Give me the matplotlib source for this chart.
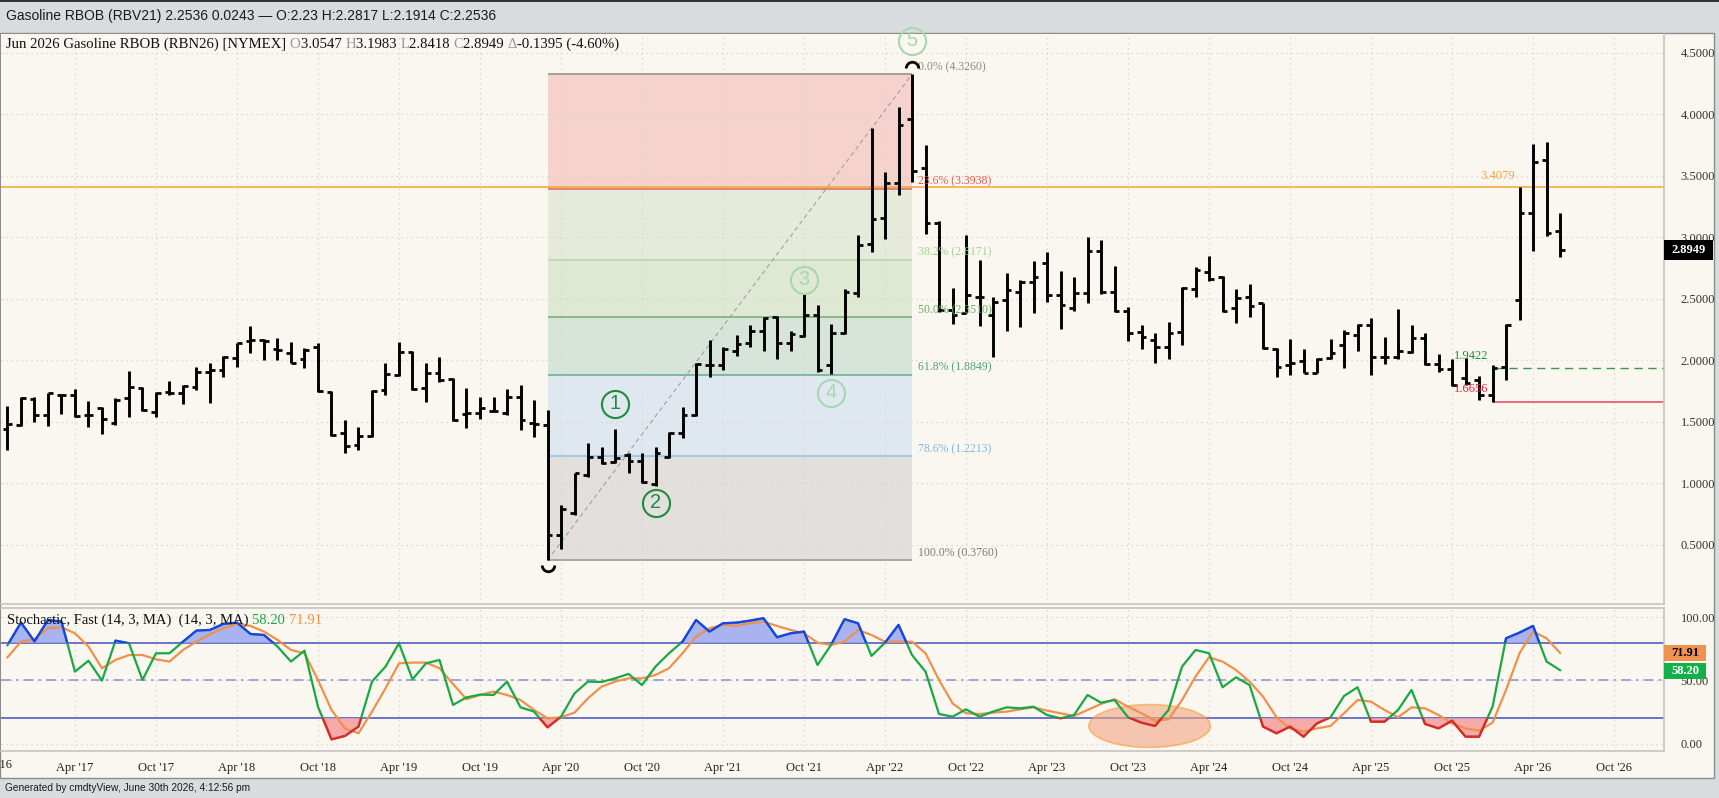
import numpy as np
import pandas as pd
import matplotlib
matplotlib.use("Agg")
import matplotlib.pyplot as plt
from matplotlib.patches import Rectangle, Ellipse
from matplotlib.path import Path
from matplotlib.transforms import blended_transform_factory

plt.rcParams['font.family'] = ['Liberation Serif', 'DejaVu Serif']

W, H = 1719, 798

# ---------------- data (monthly bars, Nov 2016 .. Jun 2026) ----------------
months = pd.period_range("2016-11", "2026-06", freq="M")

opens = [1.440, 1.472, 1.684, 1.556, 1.716, 1.719, 1.556, 1.611, 1.494, 1.692,
         1.773, 1.584, 1.746, 1.733, 1.787, 1.909, 1.922, 2.017, 2.161, 2.166,
         2.090, 2.063, 2.009, 2.112, 1.746, 1.407, 1.313, 1.386, 1.760, 1.882,
         2.071, 1.773, 1.901, 1.846, 1.565, 1.575, 1.592, 1.575, 1.701, 1.489,
         1.476, 0.580, 0.758, 1.069, 1.218, 1.178, 1.232, 1.186, 0.996, 1.218,
         1.408, 1.557, 1.964, 1.964, 2.080, 2.145, 2.243, 2.351, 2.140, 2.200,
         2.370, 1.964, 2.221, 2.546, 2.947, 3.156, 3.441, 3.961, 3.562, 3.121,
         2.411, 2.384, 2.519, 2.370, 2.492, 2.560, 2.640, 2.790, 2.533, 2.424,
         2.546, 2.893, 2.560, 2.405, 2.235, 2.170, 2.113, 2.234, 2.578, 2.722,
         2.681, 2.424, 2.519, 2.465, 2.091, 1.963, 1.998, 1.901, 2.017, 2.126,
         2.207, 2.289, 2.025, 2.025, 2.072, 2.180, 1.971, 1.928, 1.860, 1.840,
         1.720, 1.947, 2.490, 3.200, 3.630, 3.0547]
highs = [1.630, 1.700, 1.700, 1.738, 1.727, 1.765, 1.673, 1.619, 1.692, 1.917,
         1.781, 1.746, 1.836, 1.800, 1.944, 1.982, 2.036, 2.145, 2.280, 2.172,
         2.180, 2.153, 2.098, 2.145, 1.754, 1.516, 1.462, 1.760, 1.977, 2.153,
         2.079, 1.977, 2.031, 1.855, 1.773, 1.705, 1.705, 1.766, 1.801, 1.679,
         1.598, 0.825, 1.088, 1.327, 1.294, 1.441, 1.246, 1.246, 1.294, 1.422,
         1.625, 1.983, 2.167, 2.113, 2.208, 2.289, 2.351, 2.362, 2.243, 2.541,
         2.452, 2.297, 2.579, 3.021, 3.888, 3.536, 4.064, 4.326, 3.752, 3.137,
         2.587, 3.020, 2.817, 2.519, 2.709, 2.655, 2.809, 2.885, 2.730, 2.682,
         3.001, 2.980, 2.768, 2.438, 2.289, 2.220, 2.316, 2.595, 2.763, 2.849,
         2.687, 2.578, 2.619, 2.470, 2.099, 2.172, 2.091, 2.017, 2.172, 2.248,
         2.297, 2.343, 2.194, 2.416, 2.289, 2.226, 2.053, 2.010, 2.020, 1.876,
         1.960, 2.299, 3.4079, 3.762, 3.774, 3.1983]
lows = [1.272, 1.467, 1.502, 1.467, 1.565, 1.543, 1.456, 1.402, 1.475, 1.543,
        1.592, 1.543, 1.719, 1.646, 1.760, 1.657, 1.863, 1.944, 2.058, 2.004,
        2.004, 1.977, 1.936, 1.746, 1.386, 1.250, 1.272, 1.380, 1.719, 1.874,
        1.760, 1.665, 1.827, 1.510, 1.448, 1.521, 1.584, 1.556, 1.435, 1.381,
        0.376, 0.470, 0.744, 1.056, 1.159, 1.164, 1.083, 1.007, 0.980, 1.205,
        1.368, 1.549, 1.869, 1.923, 2.037, 2.107, 2.080, 2.010, 2.080, 2.194,
        1.910, 1.891, 2.216, 2.514, 2.885, 2.985, 3.346, 3.454, 3.029, 2.397,
        2.297, 2.384, 2.281, 2.030, 2.243, 2.275, 2.384, 2.478, 2.254, 2.405,
        2.465, 2.541, 2.397, 2.161, 2.090, 1.977, 2.010, 2.126, 2.519, 2.649,
        2.397, 2.302, 2.356, 2.091, 1.863, 1.882, 1.896, 1.896, 2.009, 1.936,
        2.080, 1.882, 1.971, 2.009, 2.058, 1.963, 1.909, 1.791, 1.800, 1.682,
        1.6656, 1.838, 2.328, 2.890, 3.013, 2.8418]
closes = [1.483, 1.692, 1.556, 1.733, 1.716, 1.548, 1.556, 1.521, 1.678, 1.787,
          1.597, 1.733, 1.733, 1.792, 1.909, 1.922, 2.025, 2.139, 2.166, 2.161,
          2.085, 1.982, 2.085, 1.752, 1.394, 1.307, 1.386, 1.754, 1.890, 2.071,
          1.765, 1.901, 1.841, 1.516, 1.570, 1.611, 1.592, 1.705, 1.517, 1.484,
          0.580, 0.790, 1.083, 1.218, 1.170, 1.205, 1.186, 1.015, 1.246, 1.414,
          1.557, 1.972, 1.964, 2.091, 2.134, 2.243, 2.343, 2.140, 2.216, 2.370,
          1.923, 2.221, 2.560, 2.939, 3.148, 3.441, 3.915, 3.543, 3.115, 2.411,
          2.370, 2.533, 2.519, 2.478, 2.573, 2.641, 2.682, 2.533, 2.451, 2.552,
          2.893, 2.560, 2.405, 2.220, 2.190, 2.113, 2.227, 2.587, 2.736, 2.660,
          2.405, 2.505, 2.443, 2.099, 1.944, 1.977, 1.901, 2.009, 2.058, 2.226,
          2.289, 2.031, 2.025, 2.080, 2.180, 1.971, 1.928, 1.800, 1.820, 1.720,
          1.9422, 2.290, 3.200, 3.616, 3.033, 2.8949]

# Stochastic fast (14, 3): %K and %D
stoch_k = [78, 96, 81, 98, 96.7, 57, 65.7, 49.9, 81.6, 79.5,
           50.4, 71.6, 71.6, 80.8, 89.6, 90.1, 94.9, 95.9, 86.9, 86.1,
           76.9, 65, 73.7, 29.2, 3.3, 6, 13.4, 49.1, 61, 79.5,
           50.9, 63.6, 66.3, 30.6, 36.6, 38.8, 38.5, 49.1, 28.7, 25.3,
           12.8, 21.3, 39.8, 49.1, 48.8, 51.7, 55.2, 46.4, 61, 71.6,
           80.8, 98, 88.8, 95.4, 95.9, 97.5, 99.4, 84.3, 87.4, 88.8,
           62.3, 78.2, 98.6, 95.4, 69.5, 80, 94.1, 70.2, 57, 23.4,
           21.3, 27.1, 21.3, 25.3, 28.7, 27.9, 29.2, 22.6, 20, 22.6,
           38.5, 32.4, 34.5, 20.8, 16.5, 13.9, 26.6, 61, 74.2, 71.6,
           44.6, 52.5, 46.4, 13.4, 8.1, 13.4, 5.4, 16, 20.8, 37.7,
           44.6, 17.3, 17.3, 26.6, 42.5, 15.5, 12, 18.1, 5.4, 5.4,
           29.2, 83.5, 88, 93.3, 65, 58.20]
stoch_d = [68.4, 80.8, 82.7, 91.4, 92.2, 87.4, 76.9, 59.7, 66.3, 70.2,
           70.2, 66.8, 65, 74.2, 80.8, 86.7, 91.4, 94.9, 93.3, 88.8,
           82.2, 74.2, 71.6, 50.4, 26.6, 12, 8.1, 25.3, 43.8, 63.6,
           64.2, 64.2, 59.7, 47.2, 35.1, 38.5, 41.2, 38.5, 34.5, 26.6,
           20, 20.8, 24.5, 35.9, 45.1, 49.1, 51.7, 51.7, 54.4, 59.7,
           71.6, 84.8, 91.4, 94.1, 93.3, 95.4, 96.7, 93.3, 90.1, 87.4,
           80, 78.2, 80.8, 90, 86.1, 80.8, 80.8, 80.8, 71.6, 50.4,
           31.9, 24, 23.4, 24.5, 25.3, 27.1, 28.7, 26.1, 24, 21.8,
           26.6, 31.4, 35.1, 29.2, 24, 18.1, 19.2, 34.5, 53.1, 68.4,
           65, 58.3, 49.1, 37.2, 20.8, 12, 9.4, 12, 13.9, 24,
           34.5, 33.2, 26.6, 20.8, 28.7, 27.9, 22.6, 16, 12, 10.2,
           16.5, 42.5, 71.6, 88.8, 83.5, 71.91]

# Fibonacci retracement (low -> high)
fib_start, fib_end = "2020-03", "2022-06"
fib_low, fib_high = 0.3760, 4.3260
fib_ratios = [0.0, 0.236, 0.382, 0.5, 0.618, 0.786, 1.0]
fib_line_colors = ["#a39d9d", "#dc6a5c", "#b2d9a4", "#73ad6b", "#63ad92", "#93c0ea", "#a8a5a5"]
fib_text_colors = ["#8f8a8a", "#e05a50", "#a3d293", "#6bb064", "#4f9f80", "#80b4ea", "#7d7a7a"]
fib_zone_colors = ["#f5d3cc", "#e6ebd9", "#dfe8d3", "#d7e4da", "#e0e8ef", "#e3dfdc"]

# Elliott wave counts
wave_labels = ["1", "2", "3", "4", "5"]
wave_months = ["2020-08", "2020-11", "2021-10", "2021-12", "2022-06"]
wave_prices = [1.646, 0.842, 2.655, 1.736, 4.60]
wave_colors = ["#1f8b3b", "#1f8b3b", "#a6d7b0", "#a6d7b0", "#a6d7b0"]

# horizontal marker lines
resist_level = 3.4079
support_level = 1.9422
low_level = 1.6656
marker_start = "2026-01"

CREAM = "#faf7f0"
GREEN = "#1aa844"
ORANGE = "#f0914a"
BLUE = "#1c3ff0"
RED = "#f0202a"


def mpos(p):
    p = pd.Period(p, freq="M")
    return (p.year - 2016) * 12 + p.month - 1


def rect(x0, y0, x1, y1):
    return [x0 / W, 1 - y1 / H, (x1 - x0) / W, (y1 - y0) / H]


x = np.array([mpos(p) for p in months])
o, h, l, c = map(np.array, (opens, highs, lows, closes))
k = np.array(stoch_k)
d = np.array(stoch_d)

fig = plt.figure(figsize=(W / 100, H / 100), dpi=100, facecolor="#d8dcdf")
fig.add_artist(Rectangle((0, 1 - 778 / H), 1714 / W, (778 - 33) / H,
                         transform=fig.transFigure, fc=CREAM, ec="#8c8c8c", lw=1, zorder=-5))
fig.add_artist(Rectangle((0, 1 - 2 / H), 1, 2 / H, transform=fig.transFigure,
                         fc="#30353a", ec="none", zorder=-4))

ax = fig.add_axes(rect(1, 34, 1664, 604))
ax_st = fig.add_axes(rect(1, 608, 1664, 751), sharex=ax)
for a in (ax, ax_st):
    a.set_facecolor(CREAM)
    for s in a.spines.values():
        s.set_color("#c4c4c4")
        s.set_linewidth(1.2)
ax.spines["top"].set_visible(False)
ax.spines["left"].set_visible(False)
ax_st.spines["left"].set_visible(False)

ax.set_xlim(9.52, 132.7)
ax.set_ylim(0.02, 4.654)
ax_st.set_ylim(-5.95, 107.5)

# ---------------- grid / ticks ----------------
tick_periods = [p for p in pd.period_range("2016-10", "2026-10", freq="M") if p.month in (4, 10)]
tick_pos = [mpos(p) for p in tick_periods]
tick_lab = [p.strftime("%b '%y") for p in tick_periods]
grid_kw = dict(color="#d6d3cc", linestyle=(0, (1, 3)), lw=0.9)

ax.yaxis.tick_right()
ax.set_yticks(np.arange(0.5, 4.51, 0.5))
ax.set_yticklabels([f"{v:.4f}" for v in np.arange(0.5, 4.51, 0.5)])
ax.tick_params(axis="y", length=0, pad=12, labelsize=9, labelcolor="#333333")
ax.tick_params(axis="x", length=0, labelbottom=False)
ax.grid(True, **grid_kw)
ax.set_axisbelow(True)

ax_st.yaxis.tick_right()
ax_st.set_yticks([0, 50, 100])
ax_st.set_yticklabels(["0.00", "50.00", "100.00"])
ax_st.tick_params(axis="y", length=0, pad=12, labelsize=9, labelcolor="#333333")
ax_st.set_xticks(tick_pos[1:], tick_lab[1:])
ax_st.tick_params(axis="x", length=0, pad=8, labelsize=9, labelcolor="#222222")
ax_st.grid(True, **grid_kw)
ax_st.set_axisbelow(True)
ax_st.text(tick_pos[0], -0.098, tick_lab[0], transform=blended_transform_factory(ax_st.transData, ax_st.transAxes),
           ha="center", va="center", fontsize=9, color="#222222", clip_on=False)

# ---------------- Fibonacci retracement ----------------
fx0, fx1 = mpos(fib_start), mpos(fib_end)
rng = fib_high - fib_low
fib_levels = [fib_high - r * rng for r in fib_ratios]
for i, col in enumerate(fib_zone_colors):
    ax.fill_between([fx0, fx1], fib_levels[i + 1], fib_levels[i], color=col, lw=0, zorder=0.5)
for r, lv, lc, tc in zip(fib_ratios, fib_levels, fib_line_colors, fib_text_colors):
    ax.hlines(lv, fx0, fx1, color=lc, lw=1.4 if r in (0.0, 1.0) else 1.1, zorder=1)
    ax.annotate(f"{r * 100:.1f}% ({lv:.4f})", (fx1, lv), xytext=(4, 1), textcoords="offset points",
                ha="left", va="bottom", fontsize=8.5, color=tc, zorder=6)
ax.plot([fx0, fx1], [fib_low, fib_high], color="#a0a0a0", lw=0.8, ls=(0, (4, 3)), zorder=1.2)

# swing markers (half circles)
arc_up = Path.arc(0, 180)
arc_dn = Path.arc(180, 360)
ax.plot(fx1, fib_high + 0.05, marker=arc_up, ms=9, mfc="none", mec="black", mew=2, zorder=7, clip_on=False)
ax.plot(fx0, fib_low - 0.04, marker=arc_dn, ms=9, mfc="none", mec="black", mew=2, zorder=7, clip_on=False)

# ---------------- horizontal levels ----------------
ms0 = mpos(marker_start)
ax.axhline(resist_level, color="#f5a631", lw=1.1, zorder=1.5)
ax.hlines(support_level, ms0 + 0.2, 132.7, color="#3a9a4a", lw=1.0, ls=(0, (6, 4)), zorder=1.5)
ax.hlines(low_level, ms0, 132.7, color="#e8455a", lw=1.1, zorder=1.5)
ax.annotate(f"{resist_level:.4f}", (mpos("2026-02") + 0.7, resist_level), xytext=(0, 4),
            textcoords="offset points", ha="right", va="bottom", fontsize=9, color="#f5a631")
ax.annotate(f"{support_level:.4f}", (ms0 - 0.3, support_level), xytext=(0, 4),
            textcoords="offset points", ha="right", va="bottom", fontsize=9, color="#1f8b3b", zorder=8)
ax.annotate(f"{low_level:.4f}", (ms0 - 0.3, low_level), xytext=(0, 5),
            textcoords="offset points", ha="right", va="bottom", fontsize=9, color="#e8203a", zorder=8)

# ---------------- OHLC bars ----------------
tw = 0.34
ax.vlines(x, l, h, color="black", lw=2.1, zorder=4)
ax.hlines(o, x - tw, x, color="black", lw=2.0, zorder=4)
ax.hlines(c, x, x + tw, color="black", lw=2.0, zorder=4)

# wave counts
for lab, wm, wp, wc in zip(wave_labels, wave_months, wave_prices, wave_colors):
    wx = mpos(wm)
    ax.plot(wx, wp, marker="o", ms=19.5, mfc="none", mec=wc, mew=1.5, zorder=7, clip_on=False)
    ax.text(wx, wp, lab, ha="center", va="center", fontsize=14.5, color=wc,
            family="Liberation Sans", zorder=7, clip_on=False)


# value boxes on the right axis
def value_box(axis, val, text, half_h, fc, tc, width_px):
    bt = blended_transform_factory(axis.transAxes, axis.transData)
    wa = width_px / (1663)
    axis.add_patch(Rectangle((1.0, val - half_h), wa, 2 * half_h, transform=bt, fc=fc, ec="none",
                             clip_on=False, zorder=10))
    axis.text(1.0 + wa / 2, val, text, transform=bt, ha="center", va="center", fontsize=9,
              fontweight="bold", color=tc, clip_on=False, zorder=11)


value_box(ax, closes[-1], f"{closes[-1]:.4f}", 10 / 123, "black", "white", 49)

# ---------------- stochastic ----------------
ax_st.axhline(80, color="#6b73c9", lw=1.4, zorder=1)
ax_st.axhline(20, color="#6b73c9", lw=1.4, zorder=1)
ax_st.axhline(50, color="#9297d6", lw=1.2, ls=(0, (6, 3, 1.5, 3)), zorder=1)
ax_st.fill_between(x, k, 80, where=k >= 80, interpolate=True, color="#a9b3ef", lw=0, zorder=1.2)
ax_st.fill_between(x, k, 20, where=k <= 20, interpolate=True, color="#f6a9a9", lw=0, zorder=1.2)
ax_st.add_patch(Ellipse((mpos("2023-11") + 0.6, 13.9), 9.0, 34, fc="#f3a585", alpha=0.6,
                        ec="#f5a030", lw=1.2, zorder=1.4))
ax_st.plot(x, d, color=ORANGE, lw=1.6, zorder=3)
ax_st.plot(x, k, color=GREEN, lw=1.6, zorder=4)
hi_line, = ax_st.plot(x, k, color=BLUE, lw=1.6, zorder=5)
hi_line.set_clip_path(Rectangle((0, 80), 200, 100, transform=ax_st.transData))
lo_line, = ax_st.plot(x, k, color=RED, lw=1.6, zorder=5)
lo_line.set_clip_path(Rectangle((0, -50), 200, 70, transform=ax_st.transData))

value_box(ax_st, stoch_d[-1], f"{stoch_d[-1]:.2f}", 8 / 1.26, "#f0924f", "black", 42)
value_box(ax_st, stoch_k[-1] - 0.3, f"{stoch_k[-1]:.2f}", 8 / 1.26, "#12b04a", "white", 42)


# ---------------- texts ----------------
def chain_text(axis, xy_px, pieces, **kw):
    t = fig.text(xy_px[0] / W, 1 - xy_px[1] / H, pieces[0][0], color=pieces[0][1], va="center", **kw)
    for s, col in pieces[1:]:
        t = axis.annotate(s, xy=(1, 0), xycoords=t, va="bottom", ha="left", color=col,
                          annotation_clip=False, **kw)
    return t


GR = "#9a9a9a"
chain_text(ax, (6, 44), [("Jun 2026 Gasoline RBOB (RBN26) [NYMEX] ", "#111111"), ("O", GR), ("3.0547 ", "#111111"),
                         ("H", GR), ("3.1983 ", "#111111"), ("L", GR), ("2.8418 ", "#111111"),
                         ("C", GR), ("2.8949 ", "#111111"), ("\u0394", GR), ("-0.1395 (-4.60%)", "#111111")],
           fontsize=10.6)
chain_text(ax_st, (7, 620), [("Stochastic, Fast (14, 3, MA)  (14, 3, MA) ", "#111111"),
                             ("58.20 ", GREEN), ("71.91", ORANGE)], fontsize=10.5)

fig.text(6 / W, 1 - 16 / H, "Gasoline RBOB (RBV21) 2.2536 0.0243 \u2014 O:2.23 H:2.2817 L:2.1914 C:2.2536",
         fontsize=10, family="Liberation Sans", color="#1a1a1a", va="center")
fig.text(5 / W, 1 - 788 / H, "Generated by cmdtyView, June 30th 2026, 4:12:56 pm",
         fontsize=7.3, family="Liberation Sans", color="#1a1a1a", va="center")

fig.savefig("out.png", dpi=100, facecolor=fig.get_facecolor())
